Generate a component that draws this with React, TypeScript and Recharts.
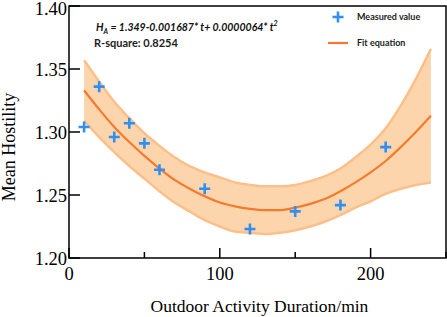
import React from "react";
import {
  ComposedChart,
  Area,
  Line,
  Scatter,
  XAxis,
  YAxis,
  ReferenceArea,
} from "recharts";

// measured points
const pointT = [10, 20, 30, 40, 50, 60, 90, 120, 150, 180, 210];
const pointH = [1.304, 1.336, 1.296, 1.307, 1.291, 1.27, 1.255, 1.223, 1.237, 1.242, 1.288];

// fit curve and its band, read every 10 min
const curveT = [10, 20, 30, 40, 50, 60, 70, 80, 90, 100, 110, 120, 130, 140, 150, 160, 170, 180, 190, 200, 210, 220, 230, 240];
const fitH = [1.333, 1.318, 1.304, 1.292, 1.281, 1.271, 1.262, 1.255, 1.249, 1.244, 1.241, 1.239, 1.238, 1.238, 1.24, 1.243, 1.247, 1.253, 1.26, 1.268, 1.277, 1.288, 1.3, 1.313];
const bandHigh = [1.357, 1.34, 1.324, 1.311, 1.299, 1.289, 1.28, 1.273, 1.268, 1.264, 1.26, 1.258, 1.257, 1.257, 1.258, 1.261, 1.265, 1.271, 1.28, 1.29, 1.303, 1.321, 1.342, 1.366];
const bandLow = [1.309, 1.296, 1.284, 1.273, 1.263, 1.253, 1.244, 1.237, 1.23, 1.225, 1.221, 1.22, 1.219, 1.22, 1.222, 1.225, 1.229, 1.234, 1.24, 1.245, 1.251, 1.255, 1.258, 1.26];

const xTicks = [0, 50, 100, 150, 200, 250];
const yTicks = [1.2, 1.25, 1.3, 1.35, 1.4];

const points = pointT.map((t, i) => ({ t, h: pointH[i] }));
const curve = curveT.map((t, i) => ({ t, fit: fitH[i], band: [bandLow[i], bandHigh[i]] }));

const SERIF = '"Liberation Serif", "Times New Roman", serif';
const SANS = 'Lato, "Open Sans", sans-serif';
const BLUE = "#2F8FF3";
const ORANGE = "#F47B2E";

const XTick = (props: any) => {
  const { x, y, payload } = props;
  const major = payload.value % 100 === 0;
  return (
    <g>
      <line x1={x} x2={x} y1={y} y2={y - (major ? 10 : 6)} stroke="#000" strokeWidth={1.5} />
      {major && (
        <text x={x} y={y + 21.5} textAnchor="middle" fontFamily={SERIF} fontSize={18.5} fill="#000">
          {payload.value}
        </text>
      )}
    </g>
  );
};

const YTick = (props: any) => {
  const { x, y, payload } = props;
  // top label sits against the page edge; nudge it down a touch
  const ty = payload.value >= 1.4 ? y + 2 : y;
  return (
    <g>
      <line x1={x} x2={x + 11} y1={y} y2={y} stroke="#000" strokeWidth={1.5} />
      <text x={x - 2} y={ty} dy="0.36em" textAnchor="end" fontFamily={SERIF} fontSize={18.5} fill="#000">
        {payload.value.toFixed(2)}
      </text>
    </g>
  );
};

const Cross = (props: any) => {
  const { cx, cy } = props;
  return (
    <g>
      <line x1={cx - 5.5} x2={cx + 5.5} y1={cy} y2={cy} stroke={BLUE} strokeWidth={2.6} />
      <line x1={cx} x2={cx} y1={cy - 5.5} y2={cy + 5.5} stroke={BLUE} strokeWidth={2.6} />
    </g>
  );
};

export default function App() {
  return (
    <div style={{ position: "absolute", left: 0, top: 0, width: 447, height: 317, background: "#fff" }}>
      <ComposedChart width={447} height={317} data={curve} margin={{ top: 6, right: 1, left: 0, bottom: 0 }}>
        <XAxis
          dataKey="t"
          type="number"
          domain={[0, 250]}
          ticks={xTicks}
          axisLine={false}
          tickLine={false}
          tickSize={0}
          tickMargin={0}
          height={59}
          tick={<XTick />}
          interval={0}
          label={({ viewBox }: any) => (
            <text
              x={viewBox.x + viewBox.width / 2 + 2}
              y={312}
              textAnchor="middle"
              fontFamily={SERIF}
              fontSize={17.5}
              fill="#000"
            >
              Outdoor Activity Duration/min
            </text>
          )}
        />
        <YAxis
          type="number"
          domain={[1.2, 1.4]}
          ticks={yTicks}
          allowDataOverflow
          axisLine={false}
          tickLine={false}
          tickSize={0}
          tickMargin={0}
          width={69}
          tick={<YTick />}
          interval={0}
          label={() => (
            <text
              x={15}
              y={147}
              transform="rotate(-90, 15, 147)"
              textAnchor="middle"
              fontFamily={SERIF}
              fontSize={18}
              fill="#000"
            >
              Mean Hostility
            </text>
          )}
        />
        <Area
          dataKey="band"
          type="monotone"
          fill="#FDD5AC"
          fillOpacity={1}
          stroke="#FBC08A"
          strokeWidth={2.5}
          isAnimationActive={false}
          activeDot={false}
        />
        <Line
          dataKey="fit"
          type="monotone"
          stroke={ORANGE}
          strokeWidth={2.2}
          dot={false}
          activeDot={false}
          isAnimationActive={false}
        />
        <Scatter data={points} dataKey="h" shape={<Cross />} isAnimationActive={false} />
        <ReferenceArea x1={0} x2={250} y1={1.2} y2={1.4} fill="none" stroke="#000" strokeWidth={1.5} ifOverflow="visible" />
      </ComposedChart>

      <div
        style={{
          position: "absolute",
          left: 96,
          top: 15,
          fontFamily: SANS,
          fontSize: 10.5,
          fontWeight: 700,
          fontStyle: "italic",
          color: "#111",
          whiteSpace: "nowrap",
          lineHeight: "16px",
        }}
      >
        H<sub style={{ fontSize: 7 }}>A</sub> = 1.349-0.001687* t+ 0.0000064* t<sup style={{ fontSize: 7 }}>2</sup>
      </div>
      <div
        style={{
          position: "absolute",
          left: 94,
          top: 36,
          fontFamily: SANS,
          fontSize: 11,
          fontWeight: 700,
          color: "#222",
          whiteSpace: "nowrap",
          lineHeight: "14px",
        }}
      >
        R-square: 0.8254
      </div>

      <svg style={{ position: "absolute", left: 331, top: 10 }} width={14} height={14}>
        <line x1={1.5} x2={12.5} y1={7} y2={7} stroke={BLUE} strokeWidth={2.6} />
        <line x1={7} x2={7} y1={1.5} y2={12.5} stroke={BLUE} strokeWidth={2.6} />
      </svg>
      <div
        style={{
          position: "absolute",
          left: 357,
          top: 10,
          fontFamily: SANS,
          fontSize: 9,
          fontWeight: 700,
          color: "#222",
          whiteSpace: "nowrap",
          lineHeight: "14px",
        }}
      >
        Measured value
      </div>
      <svg style={{ position: "absolute", left: 328, top: 39 }} width={20} height={8}>
        <line x1={0} x2={20} y1={4} y2={4} stroke={ORANGE} strokeWidth={2.2} />
      </svg>
      <div
        style={{
          position: "absolute",
          left: 357,
          top: 36,
          fontFamily: SANS,
          fontSize: 9,
          fontWeight: 700,
          color: "#222",
          whiteSpace: "nowrap",
          lineHeight: "14px",
        }}
      >
        Fit equation
      </div>
    </div>
  );
}
